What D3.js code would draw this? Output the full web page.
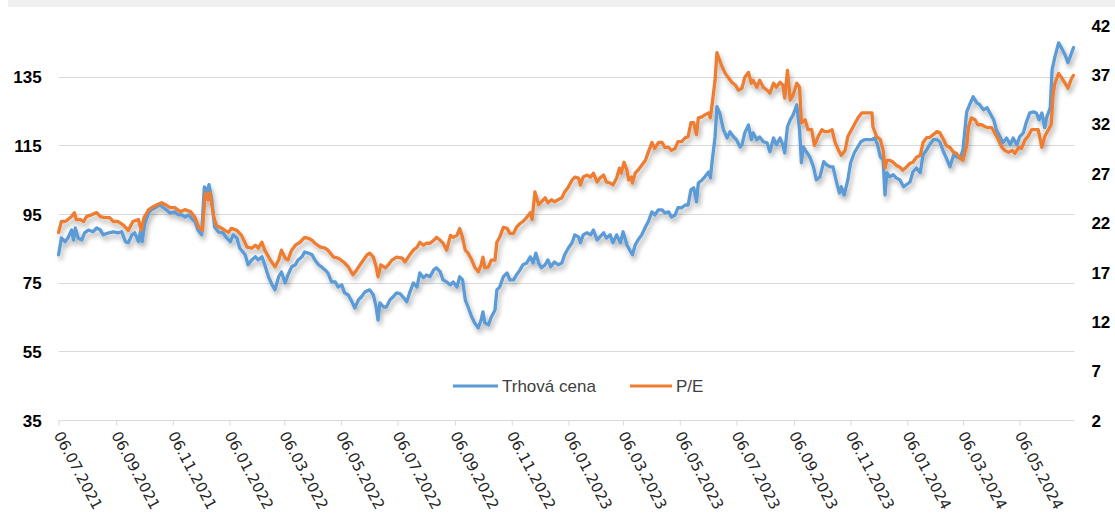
<!DOCTYPE html>
<html>
<head>
<meta charset="utf-8">
<script src="https://cdn.jsdelivr.net/npm/d3@7"></script>
<style>
html,body{margin:0;padding:0;background:#fff;}
svg{display:block;}
</style>
</head>
<body>
<svg id="chart" width="1115" height="517"></svg>
<script>
// ---------- DATA ----------
const startDate = "06.07.2021";
const endDate = "04.07.2024";
const xTickLabels = ["06.07.2021","06.09.2021","06.11.2021","06.01.2022","06.03.2022","06.05.2022",
  "06.07.2022","06.09.2022","06.11.2022","06.01.2023","06.03.2023","06.05.2023",
  "06.07.2023","06.09.2023","06.11.2023","06.01.2024","06.03.2024","06.05.2024"];
const leftTicks = [35,55,75,95,115,135];
const rightTicks = [2,7,12,17,22,27,32,37,42];
const seriesNames = ["Trhová cena","P/E"];

// days after startDate
const priceDays = [0,3,7,10,14,16,18,21,25,28,
32,37,41,45,48,54,59,64,68,72,
75,79,82,86,88,90,93,97,100,104,
109,113,116,120,125,129,133,136,140,143,
147,150,154,157,160,162,165,168,172,177,
181,185,188,192,195,201,204,208,212,215,
219,222,226,230,233,237,240,244,247,251,
255,258,262,265,269,273,276,280,283,287,
290,294,298,301,305,308,312,316,319,323,
326,330,335,339,342,344,346,350,353,357,
360,364,368,371,375,378,382,386,389,393,
396,400,404,407,411,414,418,422,425,429,
432,435,438,441,445,448,452,455,457,459,
463,466,470,472,475,479,483,486,490,493,
497,500,504,508,511,514,517,520,524,527,
530,534,538,542,545,549,553,556,560,562,
565,569,573,576,580,583,587,590,594,597,
601,605,608,612,615,618,621,624,628,632,
635,639,642,646,650,653,657,660,664,667,
671,675,678,681,684,687,689,693,696,700,
702,704,707,709,712,716,720,723,727,730,
734,736,739,743,746,748,752,755,759,763,
766,770,773,777,780,782,785,788,791,795,
798,800,802,806,809,813,816,820,824,827,
831,834,838,841,843,846,850,853,857,860,
864,868,872,876,879,882,885,888,890,892,
895,899,902,906,910,913,917,920,924,928,
931,935,938,942,946,949,953,956,960,964,
967,971,974,978,982,985,989,992,996,1000,
1003,1007,1010,1014,1017,1021,1025,1028,1032,1035,
1039,1042,1046,1050,1053,1056,1059,1062,1064,1068,
1070,1073,1077,1080,1084,1087,1091,1093];
const priceValues = [83.1,88.0,86.9,88.0,90.3,87.4,90.9,88.0,87.4,89.5,
90.3,89.8,90.9,90.3,88.9,89.5,89.8,89.5,89.8,86.9,
86.6,88.9,89.5,86.9,89.8,86.9,92.4,95.3,96.2,96.8,
97.6,96.8,96.2,95.3,95.6,94.7,94.7,94.1,94.7,93.8,
92.7,90.3,88.9,102.9,101.4,103.5,99.1,91.2,89.8,89.5,
88.0,86.9,88.9,88.0,85.1,83.1,80.2,81.6,82.5,81.6,
82.5,80.2,76.7,74.3,72.9,76.7,78.1,74.9,77.2,79.6,
80.2,81.6,82.5,83.9,83.6,83.1,81.6,80.2,79.6,78.7,
77.8,75.2,75.2,73.7,74.3,72.0,71.4,69.4,67.6,70.0,
70.8,72.3,72.9,71.4,67.9,64.1,69.1,67.9,67.9,70.0,
70.8,72.0,71.7,70.8,69.4,72.0,74.9,73.7,77.8,76.4,
77.2,76.7,78.7,79.3,78.1,75.8,75.2,74.3,75.2,73.7,
76.7,75.8,70.0,67.9,65.0,63.3,61.8,64.1,66.5,63.3,
62.7,65.0,67.0,72.9,73.7,76.7,77.8,75.8,75.8,77.2,
78.7,80.2,80.7,82.5,80.7,83.6,80.7,79.3,80.2,81.6,
79.6,81.0,80.2,80.7,83.1,85.1,86.6,88.9,88.3,86.6,
88.9,89.5,88.9,90.3,87.4,88.3,89.5,88.0,88.9,86.6,
88.9,86.6,89.8,86.0,84.5,83.1,86.0,87.4,88.9,91.2,
92.7,95.6,94.7,96.2,96.2,95.3,95.6,94.1,94.7,96.8,
96.8,97.6,97.6,102.0,102.6,98.5,104.0,104.9,105.8,107.2,
105.5,110.7,117.4,126.2,124.4,119.5,117.1,118.9,117.4,116.6,
114.5,115.1,118.6,120.9,116.6,118.6,116.6,117.4,116.0,115.7,
113.1,117.1,115.1,117.1,115.1,112.8,120.4,122.4,123.8,126.8,
119.5,109.9,114.5,112.8,111.6,108.7,104.9,105.8,110.2,109.3,
108.7,108.7,104.0,101.1,102.9,100.5,104.9,109.9,112.8,114.2,
116.0,116.6,116.6,116.6,117.1,115.1,111.6,110.7,100.5,107.0,
105.8,106.4,105.5,104.9,102.9,103.5,104.3,107.2,108.4,107.0,
112.2,113.7,115.1,116.6,116.6,116.0,113.1,111.3,108.7,112.2,
111.6,111.3,113.7,124.7,127.3,129.1,127.3,126.8,125.3,125.9,
124.4,122.4,119.5,117.4,115.7,117.1,115.1,117.1,115.1,117.4,
118.6,121.5,124.4,124.7,124.4,122.4,124.4,120.1,123.0,125.9,
137.0,140.7,144.8,143.4,141.3,139.0,141.9,143.4];

const peDays = [0,3,7,10,14,17,19,23,27,30,
36,41,45,50,55,59,64,70,75,80,
86,89,92,97,102,106,111,115,120,125,
131,136,142,147,151,155,158,161,163,167,
170,176,179,183,186,192,197,203,208,212,
215,219,222,228,233,237,240,244,247,251,
255,260,265,269,273,276,282,287,290,296,
301,307,312,317,321,326,332,335,339,342,
344,347,352,355,359,364,370,373,378,382,
386,389,393,396,400,404,407,411,414,418,
422,425,429,432,435,438,441,445,448,452,
455,457,459,463,466,470,472,475,479,483,
486,490,493,497,500,504,508,510,513,517,
520,524,527,531,534,538,542,545,549,553,
556,560,562,565,569,573,576,580,583,587,
590,594,597,601,604,606,609,612,614,617,
618,621,624,628,632,635,639,642,646,650,
653,657,660,664,667,671,675,678,681,684,
687,689,693,696,700,702,704,707,709,714,
718,721,725,729,732,736,739,743,746,748,
752,755,759,763,766,770,773,777,780,782,
785,788,791,795,798,800,804,807,811,814,
818,822,825,829,833,836,840,843,847,850,
854,858,861,865,868,872,876,877,881,885,
888,890,892,895,899,902,906,909,913,917,
920,924,928,931,935,938,942,946,949,953,
956,960,964,967,971,974,978,980,983,987,
990,994,998,1001,1005,1008,1012,1016,1019,1023,
1027,1030,1034,1037,1041,1044,1048,1052,1055,1059,
1062,1066,1069,1071,1073,1077,1080,1084,1087,1091,1093];
const peValues = [21.0,22.1,22.1,22.3,22.6,23.0,22.3,22.3,22.1,22.6,
22.8,23.0,22.6,22.5,22.5,22.1,22.1,21.7,21.2,22.1,
22.3,21.2,22.5,23.3,23.6,23.8,24.0,23.8,23.5,23.5,
23.1,23.3,23.1,22.5,21.5,21.2,25.0,24.3,25.0,22.6,
21.7,21.4,21.2,21.0,21.4,21.2,20.7,19.5,19.4,19.7,
19.4,20.0,19.2,18.2,17.5,18.2,19.2,18.4,18.2,19.2,
19.7,20.0,20.5,20.4,20.2,19.9,19.5,19.4,19.2,18.5,
18.4,18.0,17.5,16.7,17.2,17.9,18.7,18.9,18.5,17.5,
16.5,17.7,17.4,17.7,18.2,18.5,18.4,18.0,18.7,19.2,
19.5,20.0,19.7,19.9,19.9,20.2,20.5,20.2,19.9,19.2,
20.7,20.5,20.7,21.4,20.5,19.2,18.9,18.2,17.5,17.0,
17.7,18.5,17.4,17.5,18.2,18.2,20.0,20.5,21.5,21.4,
20.9,20.9,21.5,21.9,22.1,22.5,23.0,22.3,25.1,23.8,
24.1,24.5,24.0,24.3,24.1,24.3,24.5,25.1,25.6,26.3,
26.6,26.5,25.8,26.6,26.8,26.6,27.0,26.1,26.5,26.8,
26.1,26.0,25.8,26.5,27.5,27.0,28.1,27.3,26.3,26.6,
26.0,27.0,27.3,27.8,28.3,29.1,30.1,29.5,30.1,30.1,
29.6,29.6,29.3,29.5,30.2,30.2,30.6,30.7,32.1,32.1,
30.9,32.6,32.7,32.9,33.1,32.6,34.1,36.4,39.2,37.9,
37.1,36.7,36.2,35.9,35.4,35.6,36.7,37.2,36.1,36.4,
35.7,36.4,35.7,35.4,35.1,36.1,35.7,36.2,35.9,34.6,
37.4,34.4,34.9,36.1,35.7,32.1,32.4,31.4,31.4,29.8,
30.7,31.4,31.2,31.2,31.4,30.2,29.3,28.8,29.3,30.7,
31.4,32.1,32.6,33.1,33.1,33.1,33.1,31.7,30.7,30.4,
29.3,27.5,28.3,28.3,28.1,27.8,27.6,27.3,27.6,28.0,
28.1,28.6,28.8,30.1,30.6,30.6,30.9,31.2,31.1,30.4,
29.8,29.6,29.1,29.0,28.5,28.3,29.8,31.7,32.6,32.4,
31.9,31.9,31.7,31.6,31.6,31.1,30.4,29.6,29.3,29.1,
29.3,29.0,29.6,29.5,30.4,30.7,31.4,31.4,31.4,29.6,
30.7,31.4,31.9,34.9,36.1,37.1,36.7,36.1,35.6,36.6,36.9];

// ---------- CHART ----------
const W = 1115, H = 517;
const plot = {left: 58.6, right: 1074.4, top: 25, bottom: 420};
const colors = {price: "#5B9BD5", pe: "#ED7D31", grid: "#d9d9d9", axisText: "#000", tickText: "#262626", legendText: "#404040"};

const parse = d3.utcParse("%d.%m.%Y");
const t0 = parse(startDate), t1 = parse(endDate);

const x = d3.scaleUtc().domain([t0, t1]).range([plot.left, plot.right]);
const yL = d3.scaleLinear().domain([35, 150]).range([plot.bottom, plot.top]);
const yR = d3.scaleLinear().domain([2, 42]).range([plot.bottom, plot.top]);

const svg = d3.select("#chart");

// filter for soft shadow
const defs = svg.append("defs");
const f = defs.append("filter").attr("id", "shadow")
  .attr("filterUnits", "userSpaceOnUse").attr("x", 0).attr("y", 0).attr("width", W).attr("height", H);
f.append("feGaussianBlur").attr("in", "SourceAlpha").attr("stdDeviation", 2.4).attr("result", "b");
f.append("feOffset").attr("in", "b").attr("dx", 2).attr("dy", 4).attr("result", "o");
f.append("feComponentTransfer").attr("in", "o").attr("result", "s")
  .append("feFuncA").attr("type", "linear").attr("slope", 0.3);
const m = f.append("feMerge");
m.append("feMergeNode").attr("in", "s");
m.append("feMergeNode").attr("in", "SourceGraphic");

// top band
svg.append("rect").attr("x", 8).attr("y", 0).attr("width", W - 8).attr("height", 7).attr("fill", "#f0f0f0");

// gridlines (left axis)
svg.append("g").selectAll("line").data(leftTicks.filter(v => v !== 35)).join("line")
  .attr("x1", plot.left).attr("x2", plot.right)
  .attr("y1", d => Math.round(yL(d)) + 0.5).attr("y2", d => Math.round(yL(d)) + 0.5)
  .attr("stroke", colors.grid).attr("stroke-width", 1);

// left axis
const gL = svg.append("g").attr("transform", `translate(${plot.left - 17},0)`)
  .call(d3.axisLeft(yL).tickValues(leftTicks).tickSize(0).tickPadding(0));
gL.select(".domain").remove();
gL.selectAll("text").attr("font-family", "'Liberation Sans', Arial, sans-serif")
  .attr("font-size", 17).attr("font-weight", "bold").attr("fill", colors.axisText).attr("dy", "0.36em");

// right axis
const gR = svg.append("g").attr("transform", `translate(${plot.right + 17},0)`)
  .call(d3.axisRight(yR).tickValues(rightTicks).tickSize(0).tickPadding(0));
gR.select(".domain").remove();
gR.selectAll("text").attr("font-family", "'Liberation Sans', Arial, sans-serif")
  .attr("font-size", 17).attr("font-weight", "bold").attr("fill", colors.axisText).attr("dy", "0.36em");

// bottom axis
const tickDates = xTickLabels.map(parse);
const gB = svg.append("g").attr("transform", `translate(0,${plot.bottom + 0.5})`)
  .call(d3.axisBottom(x).tickValues(tickDates).tickSize(5).tickSizeOuter(0).tickFormat(d3.utcFormat("%d.%m.%Y")));
gB.select(".domain").attr("stroke", colors.grid).attr("d", `M${plot.left},0H${plot.right}`);
gB.selectAll(".tick line").attr("stroke", colors.grid);
gB.selectAll("text")
  .attr("font-family", "'DejaVu Sans', Verdana, sans-serif").attr("font-size", 15)
  .attr("fill", colors.tickText)
  .attr("text-anchor", "start")
  .attr("transform", "translate(-1,12) rotate(62)")
  .attr("x", 0).attr("y", 0).attr("dy", "0.35em");

// lines
const priceData = priceDays.map((d, i) => ({date: d3.utcDay.offset(t0, d), v: priceValues[i]}));
const peData = peDays.map((d, i) => ({date: d3.utcDay.offset(t0, d), v: peValues[i]}));

const linePrice = d3.line().x(d => x(d.date)).y(d => yL(d.v));
const linePE = d3.line().x(d => x(d.date)).y(d => yR(d.v));

const gLines = svg.append("g").attr("filter", "url(#shadow)");
gLines.append("path").datum(priceData).attr("d", linePrice)
  .attr("fill", "none").attr("stroke", colors.price).attr("stroke-width", 3.3)
  .attr("stroke-linejoin", "round").attr("stroke-linecap", "round");
gLines.append("path").datum(peData).attr("d", linePE)
  .attr("fill", "none").attr("stroke", colors.pe).attr("stroke-width", 3.3)
  .attr("stroke-linejoin", "round").attr("stroke-linecap", "round");

// legend
const legend = svg.append("g").attr("font-family", "'Liberation Sans', Arial, sans-serif").attr("font-size", 17);
const legendItems = [
  {name: seriesNames[0], color: colors.price, x0: 453, x1: 498, tx: 502},
  {name: seriesNames[1], color: colors.pe, x0: 630, x1: 672, tx: 676}
];
legendItems.forEach(it => {
  legend.append("line").attr("x1", it.x0).attr("x2", it.x1).attr("y1", 386).attr("y2", 386)
    .attr("stroke", it.color).attr("stroke-width", 3);
  legend.append("text").attr("x", it.tx).attr("y", 392).attr("fill", colors.legendText).text(it.name);
});
</script>
</body>
</html>
